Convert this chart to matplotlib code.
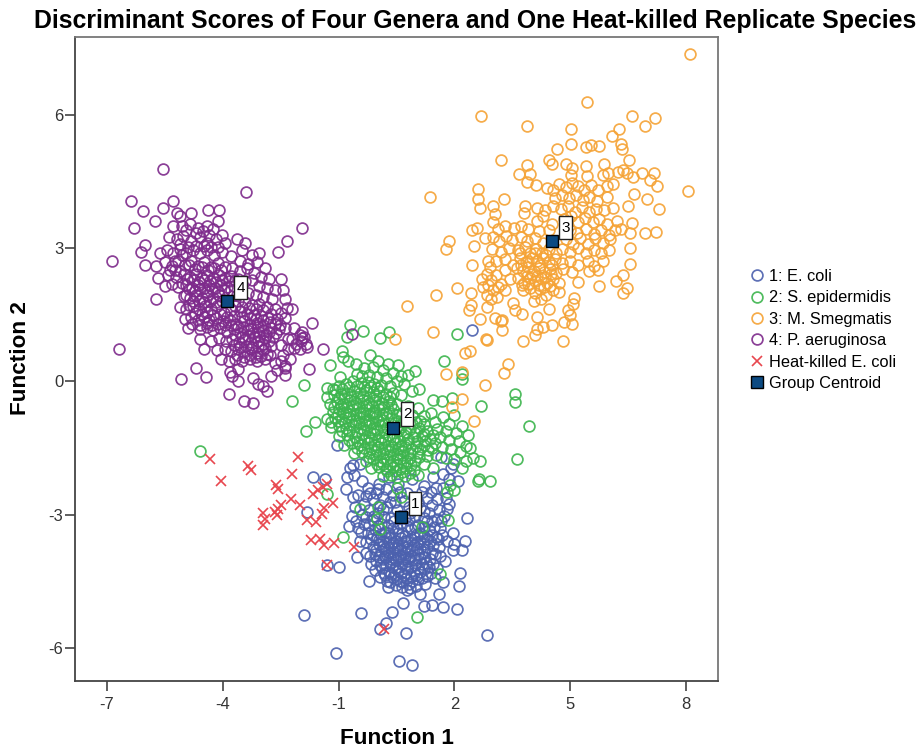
import matplotlib
matplotlib.use("Agg")
import matplotlib.pyplot as plt

plt.rcParams['font.family'] = ['Liberation Sans', 'DejaVu Sans']
plt.rcParams['axes.unicode_minus'] = False

# discriminant scores, (function 1, function 2)
ecoli = [
    (-1.9,-5.25),(-0.42,-5.21),(-1.07,-6.11),(0.56,-6.28),(0.91,-6.37),(2.85,-5.70),(0.74,-5.66),(0.24,-5.43),(0.07,-5.57),
    (0.38,-5.18),(0.66,-4.99),(1.22,-5.06),(1.43,-5.02),(1.71,-5.08),(2.06,-5.13),(2.13,-4.61),(2.14,-4.31),(1.6,-4.78),
    (1.11,-4.78),(0.76,-4.70),(-0.21,-4.48),(-1.0,-4.18),(-1.29,-4.13),(-0.52,-3.94),(-0.19,-3.92),(-0.45,-3.58),(-0.72,-3.26),
    (-1.83,-2.94),(-1.66,-2.15),(-1.35,-2.20),(-0.82,-2.41),(2.32,-3.07),(2.27,-3.59),(2.19,-3.8),(1.97,-3.8),(2.0,-3.65),
    (1.97,-3.41),(1.8,-3.59),(1.76,-4.03),(1.71,-4.52),(2.46,1.16),(-0.6,-2.1),(-0.45,-1.85),(-0.7,-1.95),(1.65,-1.7),(1.9,-1.95),(2.1,-2.25),
    (-0.5,-2.55),(-0.25,-2.4),(0.05,-2.3),(0.3,-2.15),(0.55,-2.3),(0.9,-2.2),(1.2,-2.35),(1.45,-2.15),(1.7,-2.4),(1.55,-2.65),
    (-0.35,-2.75),(-0.1,-2.65),(0.15,-2.6),(0.42,-2.55),(0.7,-2.7),(0.95,-2.6),(1.28,-2.62),(1.6,-2.9),(1.85,-2.75),
    (-0.4,-3.0),(-0.2,-2.9),(0.02,-2.95),(0.25,-2.82),(0.5,-2.9),(0.85,-2.95),(1.1,-2.85),(1.35,-2.95),(1.55,-3.1),(1.72,-3.02),
    (-0.35,-3.2),(-0.12,-3.12),(0.1,-3.2),(0.35,-3.08),(0.6,-3.2),(0.82,-3.12),(1.05,-3.22),(1.3,-3.15),(1.48,-3.28),(1.62,-3.3),
    (-0.25,-3.4),(-0.05,-3.32),(0.2,-3.38),(0.42,-3.3),(0.65,-3.4),(0.88,-3.32),(1.12,-3.4),(1.35,-3.35),(1.52,-3.5),
    (-0.15,-3.55),(0.0,-3.5),(0.15,-3.58),(0.32,-3.5),(0.48,-3.58),(0.62,-3.52),(0.78,-3.6),(0.95,-3.5),(1.1,-3.6),(1.28,-3.55),(1.45,-3.68),
    (-0.1,-3.72),(0.05,-3.65),(0.2,-3.75),(0.35,-3.68),(0.5,-3.75),(0.65,-3.68),(0.8,-3.76),(0.95,-3.68),(1.12,-3.78),(1.3,-3.72),(1.42,-3.85),
    (-0.05,-3.88),(0.1,-3.82),(0.25,-3.9),(0.42,-3.84),(0.58,-3.92),(0.72,-3.85),(0.88,-3.92),(1.05,-3.88),(1.22,-3.95),(1.38,-4.0),
    (-0.02,-4.05),(0.15,-4.0),(0.32,-4.08),(0.48,-4.02),(0.64,-4.1),(0.8,-4.05),(0.98,-4.12),(1.15,-4.1),(1.35,-4.18),(1.55,-4.2),
    (-0.05,-4.25),(0.12,-4.2),(0.3,-4.28),(0.45,-4.2),(0.62,-4.3),(0.78,-4.22),(0.95,-4.3),(1.12,-4.28),(1.3,-4.38),(1.5,-4.42),
    (0.08,-4.4),(0.25,-4.48),(0.42,-4.4),(0.58,-4.5),(0.75,-4.42),(0.9,-4.5),(1.05,-4.45),(1.25,-4.55),
    (0.28,-4.62),(0.48,-4.58),(0.65,-4.62),(0.85,-4.65),(1.0,-4.6),(0.2,-4.35),(0.52,-3.3),(0.3,-3.62),(0.72,-3.95),(0.4,-3.95),
]
ecoli_core = [
    (-1.05,-1.44),(-0.62,-1.89),(-0.79,-2.15),(-0.4,-2.23),(1.97,-1.85),(1.71,-2.08),(-0.62,-2.6),(-0.58,-2.82),(-0.66,-3.02),(-0.55,-3.15),(1.78,-2.62),(1.82,-2.88),
    (-0.18,-2.52),(0.08,-2.77),(0.33,-2.71),(0.58,-2.48),(0.83,-2.83),(1.17,-2.48),(1.43,-2.77),(-0.08,-3.03),(0.17,-3.05),(0.43,-3.13),(0.71,-3.07),(0.98,-3.03),(1.22,-3.07),(1.43,-3.13),
    (-0.22,-3.22),(0.03,-3.26),(0.27,-3.24),(0.53,-3.42),(0.77,-3.25),(0.97,-3.27),(1.2,-3.28),(1.42,-3.45),(-0.12,-3.45),(0.09,-3.44),(0.3,-3.4),(0.73,-3.47),(1.02,-3.44),(1.22,-3.48),
    (0.05,-3.57),(0.24,-3.53),(0.4,-3.64),(0.55,-3.67),(0.71,-3.58),(0.87,-3.55),(1.03,-3.62),(1.2,-3.65),(1.37,-3.58),(-0.02,-3.8),(0.14,-3.7),(0.28,-3.83),(0.44,-3.74),(0.6,-3.8),(0.74,-3.72),(0.9,-3.8),(1.03,-3.74),(1.2,-3.84),
    (0.04,-3.96),(0.2,-3.95),(0.36,-4.0),(0.53,-3.98),(0.67,-4.0),(0.82,-3.98),(0.97,-4.02),(1.12,-3.98),(1.27,-4.08),(0.08,-4.12),(0.24,-4.14),(0.4,-4.13),(0.56,-4.18),(0.72,-4.14),(0.88,-4.18),(1.05,-4.2),(1.22,-4.22),
    (0.18,-4.3),(0.36,-4.33),(0.53,-4.26),(0.7,-4.36),(0.87,-4.38),(1.0,-4.36),(0.33,-4.52),(0.52,-4.44),(0.68,-4.52),(0.82,-4.56),(1.15,-4.42),(1.4,-4.3),(1.45,-4.1),(1.62,-3.92),(1.6,-3.72),(1.68,-3.45),(-0.3,-3.62),(-0.28,-3.85),
    (-0.3,-2.58),(-0.02,-2.5),(0.22,-2.42),(0.46,-2.72),(0.76,-2.52),(1.06,-2.72),(1.4,-2.48),(-0.28,-3.05),(0.14,-2.88),(0.6,-3.03),(1.2,-2.92),(1.65,-3.15),(-0.42,-3.38),(1.58,-3.55),(1.52,-2.4),(1.85,-2.2),(-0.5,-3.3),(-0.15,-4.1),(1.5,-3.88),(0.02,-2.42),
]
sepidermidis = [
    (-0.71,1.28),(-0.36,1.13),(-0.79,1.0),(0.07,0.98),(0.31,1.11),(2.08,1.07),(1.73,0.45),(-2.22,-0.45),(-1.9,-0.09),(-1.85,-1.12),
    (-1.61,-0.92),(3.57,-0.28),(3.57,-0.46),(3.63,-1.74),(3.93,-1.0),(2.7,-0.56),(2.19,0.06),(2.19,0.17),(1.93,-0.37),(2.92,-2.24),
    (2.64,-2.19),(2.66,-1.78),(2.4,-1.49),(1.02,-5.3),(-4.58,-1.57),(0.03,-2.83),(0.0,-3.09),(0.07,-3.31),(-0.45,-2.86),(-0.88,-3.49),
    (-1.31,-2.54),(1.15,-3.28),(1.84,-3.11),(1.88,-2.34),(1.8,-2.49),(2.62,-2.23),(1.63,-4.33),(2.0,-2.45),
    (-0.92,0.68),(-0.88,0.55),(-0.75,0.47),(-0.55,0.4),(-1.22,0.36),(-0.19,0.59),(0.03,0.47),(0.29,0.4),(0.55,0.36),(0.98,0.23),(0.8,0.14),
    (-0.52,0.17),(-0.97,0.1),(-1.29,-0.14),(-1.14,-0.16),(1.08,-0.16),(1.45,-0.41),(1.67,-0.44),
    (-0.35,0.3),(-0.1,0.32),(0.15,0.25),(0.4,0.2),(0.62,0.12),(-0.4,0.12),(-0.2,0.15),(0.0,0.1),(0.22,0.08),(0.5,0.02),(0.7,-0.05),
    (-1.0,-0.1),(-0.82,-0.05),(-0.62,0.0),(-0.42,-0.04),(-0.25,-0.02),(-0.08,-0.06),(0.1,-0.08),(0.32,-0.1),(0.9,-0.22),
    (-1.3,-0.35),(-1.12,-0.3),(-0.95,-0.28),(-0.78,-0.25),(-0.6,-0.22),(-0.45,-0.26),(-0.28,-0.2),(-0.12,-0.24),(0.05,-0.22),(0.22,-0.28),(0.4,-0.25),(0.62,-0.3),
    (-1.22,-0.5),(-1.05,-0.46),(-0.88,-0.5),(-0.7,-0.42),(-0.55,-0.48),(-0.38,-0.42),(-0.2,-0.48),(-0.05,-0.42),(0.12,-0.48),(0.3,-0.44),(0.5,-0.5),(0.8,-0.55),(1.05,-0.6),
    (-1.15,-0.68),(-0.98,-0.62),(-0.8,-0.68),(-0.62,-0.62),(-0.45,-0.68),(-0.28,-0.62),(-0.12,-0.68),(0.05,-0.62),(0.22,-0.7),(0.4,-0.62),(0.65,-0.72),(0.9,-0.75),(1.2,-0.78),(1.4,-0.7),(1.7,-0.8),(2.0,-0.75),
    (-1.3,-0.85),(-1.1,-0.82),(-0.9,-0.85),(-0.72,-0.8),(-0.55,-0.86),(-0.38,-0.8),(-0.2,-0.86),(-0.03,-0.8),(0.15,-0.86),(0.35,-0.82),(0.55,-0.88),(0.78,-0.85),(1.0,-0.92),(1.22,-0.95),(1.5,-0.92),(1.85,-0.95),(2.2,-1.0),
    (-1.2,-1.02),(-1.0,-1.0),(-0.8,-1.05),(-0.62,-0.98),(-0.45,-1.05),(-0.28,-0.98),(-0.1,-1.04),(0.08,-0.98),(0.25,-1.05),(0.62,-1.02),(0.85,-1.08),(1.08,-1.05),(1.3,-1.12),(1.55,-1.08),(1.78,-1.12),(2.05,-1.15),(2.35,-1.2),
    (-1.0,-1.22),(-0.78,-1.2),(-0.58,-1.25),(-0.4,-1.18),(-0.22,-1.24),(-0.05,-1.18),(0.12,-1.25),(0.3,-1.2),(0.5,-1.25),(0.7,-1.2),(0.92,-1.26),(1.15,-1.22),(1.38,-1.3),(1.62,-1.25),(1.85,-1.32),(2.12,-1.35),(2.3,-1.45),
    (-0.85,-1.42),(-0.65,-1.38),(-0.45,-1.44),(-0.25,-1.38),(-0.08,-1.44),(0.1,-1.38),(0.28,-1.45),(0.45,-1.38),(0.62,-1.45),(0.8,-1.38),(1.0,-1.45),(1.2,-1.42),(1.42,-1.5),(1.68,-1.48),(1.92,-1.52),(2.15,-1.58),
    (-0.6,-1.6),(-0.4,-1.58),(-0.2,-1.62),(-0.02,-1.56),(0.15,-1.62),(0.32,-1.56),(0.5,-1.64),(0.68,-1.56),(0.85,-1.62),(1.05,-1.6),(1.3,-1.68),(1.52,-1.65),(1.78,-1.72),(2.0,-1.75),(2.3,-1.78),(2.48,-1.72),
    (-0.3,-1.78),(-0.1,-1.75),(0.08,-1.8),(0.25,-1.74),(0.42,-1.8),(0.6,-1.74),(0.78,-1.8),(0.98,-1.78),(1.2,-1.85),(1.45,-1.95),(2.2,-1.95),
    (-0.15,-1.95),(0.05,-1.92),(0.22,-1.98),(0.4,-1.92),(0.58,-1.98),(0.75,-1.94),(0.95,-2.0),(0.15,-2.12),(0.35,-2.1),(0.52,-2.15),(0.72,-2.12),(0.5,-2.4),(0.62,-2.6),(1.05,-2.1),
]
sepidermidis_core = [
    (-1.1,-0.2),(-0.9,-0.17),(-0.72,-0.12),(-0.52,-0.1),(-0.35,-0.12),(-0.18,-0.12),(0.0,-0.15),(-1.0,-0.37),(-0.85,-0.38),(-0.68,-0.33),(-0.52,-0.37),(-0.36,-0.33),(-0.2,-0.34),(-0.03,-0.33),(0.14,-0.36),(0.32,-0.35),
    (-1.12,-0.58),(-0.95,-0.55),(-0.78,-0.58),(-0.62,-0.52),(-0.46,-0.57),(-0.3,-0.52),(-0.14,-0.56),(0.02,-0.52),(0.18,-0.58),(0.36,-0.53),(-1.02,-0.74),(-0.88,-0.72),(-0.7,-0.74),(-0.54,-0.76),(-0.37,-0.71),(-0.2,-0.75),(-0.05,-0.72),(0.12,-0.76),(0.3,-0.72),(0.5,-0.76),
    (-1.2,-0.92),(-1.02,-0.9),(-0.84,-0.94),(-0.67,-0.89),(-0.48,-0.94),(-0.32,-0.89),(-0.14,-0.94),(0.03,-0.9),(0.2,-0.95),(0.45,-0.94),(0.68,-0.92),(0.9,-0.96),(1.12,-0.9),
    (-0.9,-1.12),(-0.72,-1.12),(-0.53,-1.14),(-0.35,-1.1),(-0.18,-1.13),(0.0,-1.1),(0.18,-1.14),(0.55,-1.12),(0.75,-1.14),(0.98,-1.15),(1.22,-1.18),(1.45,-1.2),
    (-0.72,-1.32),(-0.52,-1.33),(-0.33,-1.3),(-0.15,-1.32),(0.03,-1.3),(0.2,-1.32),(0.4,-1.3),(0.6,-1.33),(0.8,-1.3),(1.02,-1.33),(1.25,-1.33),(1.5,-1.38),
    (-0.52,-1.5),(-0.35,-1.5),(-0.16,-1.52),(0.02,-1.47),(0.2,-1.52),(0.38,-1.47),(0.55,-1.52),(0.72,-1.48),(0.9,-1.52),(1.1,-1.52),(1.32,-1.55),
    (-0.2,-1.7),(-0.02,-1.66),(0.14,-1.72),(0.32,-1.66),(0.5,-1.72),(0.68,-1.66),(0.86,-1.72),(1.08,-1.7),(0.0,-1.85),(0.16,-1.86),(0.33,-1.85),(0.5,-1.87),(0.68,-1.84),(0.88,-1.88),(0.25,-2.02),(0.46,-2.02),(0.65,-2.04),(0.85,-2.05),
]
msmegmatis = [
    (8.10,7.36),(5.43,6.28),(2.68,5.97),(3.88,5.74),(5.02,5.68),(6.59,5.98),(7.19,5.93),(6.95,5.74),(6.26,5.69),(6.09,5.53),(5.02,5.34),(4.67,5.22),
    (5.42,5.28),(5.55,5.32),(5.74,5.30),(6.31,5.34),(6.33,5.24),(3.21,4.98),(6.53,4.98),(4.45,4.98),(4.54,4.90),(4.88,4.89),(5.05,4.81),(5.4,4.84),(5.87,4.90),
    (3.88,4.86),(3.68,4.66),(3.95,4.66),(3.87,4.49),(4.11,4.43),(4.40,4.35),(5.03,4.64),(5.44,4.62),(5.85,4.64),(5.98,4.68),(6.24,4.71),(6.37,4.75),(6.46,4.68),
    (6.85,4.68),(7.17,4.68),(7.06,4.53),(7.25,4.40),(6.63,4.6),(8.05,4.29),(6.66,4.21),(7.0,4.11),(6.5,3.95),(7.3,3.89),(6.59,3.57),(6.56,3.35),(6.93,3.35),(7.23,3.36),
    (6.54,3.0),(6.56,2.65),(6.37,2.39),(6.2,2.27),(6.48,2.11),(6.37,2.0),(5.75,2.15),(5.2,2.24),(1.37,4.14),(2.61,4.32),(2.61,4.10),(2.66,3.90),(3.28,4.11),(2.99,3.95),
    (3.05,3.76),(3.0,3.59),(3.82,3.95),(3.81,3.8),(1.86,3.16),(1.77,2.97),(2.5,3.05),(2.46,3.4),(2.59,3.46),(2.79,3.23),(2.46,2.63),(2.87,2.72),(2.07,2.11),(1.53,1.94),
    (0.76,1.69),(1.45,1.11),(2.44,1.99),(2.44,1.71),(2.38,1.6),(2.66,1.41),(2.85,1.67),(3.05,1.43),(3.24,1.39),(3.24,1.16),(2.83,0.96),(3.52,1.76),(3.56,1.6),(3.75,1.51),
    (4.14,1.46),(4.45,1.64),(4.54,1.26),(4.83,1.34),(4.99,1.49),(5.08,1.75),(5.09,1.88),(4.13,1.19),(4.3,1.22),(4.08,1.04),(4.82,0.92),(3.78,0.92),(0.46,0.96),(2.27,0.64),
    (2.4,0.68),(3.38,0.4),(3.28,0.19),(1.77,0.17),(2.19,0.21),(2.79,-0.09),(2.19,-0.39),(1.93,-0.58),(2.51,-0.89),(3.22,1.37),(2.85,0.94),(4.95,1.6),(5.05,1.3),
    (4.55,4.3),(4.72,4.45),(4.88,4.38),(5.05,4.46),(5.2,4.4),(5.35,4.3),(5.55,4.42),(5.72,4.3),(5.95,4.4),(6.12,4.45),(4.6,4.12),(4.8,4.2),(4.98,4.12),(5.15,4.2),(5.32,4.08),(5.5,4.15),(5.7,4.05),(5.95,4.15),
    (4.15,3.9),(4.35,3.85),(4.55,3.95),(4.75,3.88),(4.95,3.95),(5.12,3.82),(5.3,3.92),(5.48,3.82),(5.68,3.88),(5.88,3.85),(6.1,3.9),
    (4.15,3.62),(4.3,3.72),(4.52,3.55),(4.85,3.65),(5.02,3.72),(5.2,3.58),(5.38,3.68),(5.58,3.58),(5.75,3.66),(5.95,3.55),(6.22,3.62),(6.32,3.42),
    (3.12,3.42),(3.32,3.5),(3.55,3.45),(3.72,3.5),(3.9,3.42),(4.2,3.38),(4.45,3.4),(5.0,3.4),(5.18,3.35),(5.4,3.42),(5.62,3.32),(5.8,3.4),(6.0,3.3),(6.15,3.4),
    (3.0,3.25),(3.15,3.15),(3.35,3.28),(3.5,3.18),(3.72,3.25),(3.88,3.15),(4.1,3.22),(4.3,3.12),(4.9,3.2),(5.08,3.1),(5.25,3.22),(5.45,3.1),(5.65,3.22),(5.85,3.12),(6.02,3.2),
    (2.98,2.98),(3.2,2.92),(3.42,3.0),(3.65,2.95),(3.82,3.02),(3.95,2.88),(4.12,2.98),(4.28,2.9),(4.45,2.98),(4.62,2.9),(4.8,2.98),(5.0,2.92),(5.2,3.0),(5.4,2.88),(5.62,2.96),(5.8,2.88),(6.0,2.95),
    (2.92,2.58),(3.08,2.72),(3.3,2.75),(3.52,2.62),(3.7,2.78),(3.85,2.68),(4.0,2.78),(4.15,2.7),(4.3,2.78),(4.45,2.68),(4.6,2.76),(4.8,2.66),(5.0,2.72),(5.2,2.62),(5.45,2.72),(5.62,2.6),(5.85,2.7),(3.3,2.5),
    (3.62,2.55),(3.78,2.48),(3.92,2.58),(4.05,2.48),(4.18,2.55),(4.32,2.46),(4.48,2.52),(4.62,2.44),(4.82,2.52),(5.05,2.46),(5.5,2.48),(5.72,2.5),
    (2.72,2.3),(2.85,2.42),(2.95,2.28),(3.08,2.4),(3.22,2.2),(3.45,2.3),(3.65,2.32),(3.8,2.22),(3.95,2.32),(4.1,2.25),(4.25,2.33),(4.4,2.22),(4.55,2.3),(4.7,2.22),
    (2.75,2.12),(2.88,2.18),(3.0,2.05),(3.12,2.12),(3.3,2.05),(3.78,2.05),(3.95,2.1),(4.08,2.0),(4.22,2.08),(4.38,1.95),(4.55,2.05),(4.72,2.02),(2.85,1.95),(2.95,1.85),(3.1,1.9),(4.05,1.82),(4.25,1.85),
    (3.7,2.9),(3.9,2.72),(4.08,2.88),(4.22,2.62),(4.38,2.85),(4.52,2.62),(3.72,2.62),(3.88,2.38),(4.02,2.42),(4.15,2.38),(4.35,2.35),(4.5,2.42),(3.75,2.18),(3.92,2.2),(4.18,2.18),(4.32,2.12),(4.48,2.15),
]
paeruginosa = [
    (-5.54,4.79),(-3.40,4.26),(-6.38,4.06),(-6.08,3.83),(-5.28,4.07),(-5.54,3.90),(-5.76,3.60),(-6.30,3.45),(-1.94,3.46),(-2.35,3.17),(-2.56,2.92),(-6.87,2.72),
    (-6.02,3.06),(-6.12,2.91),(-6.02,2.61),(-5.72,1.86),(-6.68,0.73),(-1.68,1.32),(-1.41,0.73),(-1.76,0.29),(-5.08,0.05),(-4.70,0.30),(-4.44,0.11),(-3.84,-0.28),
    (-3.44,-0.45),(-3.21,-0.49),(-0.66,1.06),(-5.2,3.78),(-5.1,3.72),(-4.82,3.8),(-4.38,3.85),(-4.1,3.85),(-4.12,3.6),
    (-5.28,3.5),(-5.05,3.5),(-4.85,3.55),(-4.65,3.45),(-4.42,3.5),(-4.25,3.42),(-4.02,3.3),(-3.62,3.2),(-3.42,3.12),
    (-5.4,3.25),(-5.2,3.2),(-5.02,3.28),(-4.82,3.15),(-4.6,3.25),(-4.4,3.12),(-4.18,3.2),(-3.95,3.12),(-3.5,2.95),(-3.25,2.85),(-3.05,2.9),(-2.9,2.55),
    (-5.62,2.9),(-5.45,2.95),(-5.28,2.9),(-5.12,2.98),(-4.95,2.88),(-4.78,2.96),(-4.6,2.88),(-4.42,2.95),(-4.22,2.85),(-4.02,2.92),(-3.8,2.82),(-3.55,2.72),(-3.35,2.65),(-3.12,2.68),
    (-5.72,2.6),(-5.5,2.68),(-5.32,2.6),(-5.15,2.7),(-4.98,2.62),(-4.82,2.7),(-4.65,2.6),(-4.48,2.68),(-4.3,2.58),(-4.12,2.66),(-3.95,2.58),(-3.75,2.55),(-3.55,2.48),(-3.38,2.55),(-3.2,2.45),(-3.0,2.35),(-2.8,2.3),(-2.5,2.3),(-2.45,2.05),
    (-5.68,2.32),(-5.42,2.4),(-5.22,2.35),(-5.0,2.42),(-4.85,2.35),(-4.7,2.42),(-4.55,2.32),(-4.4,2.4),(-4.25,2.32),(-4.1,2.4),(-3.95,2.32),(-3.78,2.38),(-3.6,2.3),(-3.42,2.25),(-3.25,2.28),(-3.05,2.15),(-2.85,2.1),(-2.65,2.05),
    (-5.5,2.15),(-5.15,2.12),(-4.95,2.18),(-4.8,2.1),(-4.65,2.18),(-4.5,2.1),(-4.35,2.18),(-4.2,2.1),(-4.05,2.18),(-3.88,2.12),(-3.7,2.15),(-3.55,2.05),(-3.35,2.0),(-3.15,1.95),(-2.95,1.9),(-2.72,1.85),(-2.4,1.85),
    (-5.0,1.92),(-4.85,1.88),(-4.7,1.95),(-4.55,1.88),(-4.4,1.95),(-4.25,1.88),(-4.1,1.95),(-3.6,1.8),(-3.42,1.78),(-3.25,1.72),(-3.05,1.75),(-2.85,1.68),(-2.65,1.62),(-2.35,1.65),(-2.2,1.62),
    (-5.1,1.68),(-4.95,1.62),(-4.78,1.7),(-4.62,1.62),(-4.45,1.7),(-4.3,1.62),(-4.15,1.7),(-3.98,1.55),(-3.78,1.6),(-3.55,1.58),(-3.38,1.52),(-3.2,1.5),(-3.02,1.48),(-2.82,1.42),(-2.6,1.4),(-2.38,1.42),
    (-4.98,1.4),(-4.82,1.45),(-4.65,1.38),(-4.5,1.45),(-4.35,1.38),(-4.18,1.42),(-4.0,1.35),(-3.82,1.38),(-3.65,1.3),(-3.45,1.35),(-3.3,1.28),(-3.12,1.32),(-2.95,1.28),(-2.75,1.2),(-2.55,1.18),(-2.4,1.2),(-2.15,1.2),(-1.95,1.12),
    (-4.9,1.2),(-4.6,1.18),(-4.42,1.22),(-4.25,1.15),(-4.08,1.2),(-3.9,1.12),(-3.72,1.18),(-3.55,1.1),(-3.38,1.15),(-3.22,1.08),(-3.05,1.12),(-2.88,1.05),(-2.7,1.0),(-2.32,0.95),(-2.1,0.85),(-1.95,0.98),(-1.85,0.85),
    (-4.6,0.95),(-4.3,0.92),(-4.1,0.98),(-3.92,0.9),(-3.75,0.95),(-3.58,0.88),(-3.42,0.95),(-3.28,0.88),(-3.1,0.92),(-2.95,0.85),(-2.75,0.8),(-2.5,0.82),(-2.3,0.72),(-2.15,0.75),(-2.0,0.72),
    (-4.5,0.72),(-4.15,0.7),(-3.95,0.74),(-3.78,0.68),(-3.6,0.72),(-3.45,0.66),(-3.28,0.72),(-3.12,0.65),(-2.95,0.7),(-2.78,0.6),(-2.45,0.6),(-2.25,0.5),
    (-4.05,0.5),(-3.85,0.45),(-3.68,0.5),(-3.5,0.45),(-3.3,0.5),(-3.12,0.45),(-2.9,0.5),(-2.65,0.42),(-2.4,0.3),(-2.4,0.15),(-3.82,0.22),(-3.75,0.12),(-3.6,0.02),(-3.22,0.08),(-3.1,-0.05),(-2.95,-0.1),(-2.85,-0.22),(-2.75,0.12),(-3.6,0.28),
]
paeruginosa_core = [
    (-4.88,2.62),(-4.72,2.52),(-4.55,2.58),(-4.38,2.5),(-4.22,2.55),(-4.05,2.5),(-5.1,2.48),(-4.92,2.3),(-4.75,2.28),(-4.62,2.24),(-4.48,2.28),(-4.32,2.26),(-4.18,2.24),(-4.02,2.28),(-3.85,2.25),(-3.68,2.28),
    (-5.05,2.22),(-4.88,2.08),(-4.72,2.04),(-4.58,2.08),(-4.42,2.02),(-4.28,2.08),(-4.12,2.03),(-3.96,2.06),(-3.78,2.05),(-3.62,1.95),(-4.95,1.95),(-4.78,1.82),(-4.62,1.8),(-4.48,1.78),(-4.34,1.82),(-4.18,1.78),(-4.02,1.82),
    (-4.88,1.72),(-4.72,1.55),(-4.55,1.52),(-4.4,1.56),(-4.25,1.5),(-4.08,1.52),(-3.9,1.44),(-3.72,1.48),(-4.8,1.3),(-4.58,1.28),(-4.42,1.32),(-4.28,1.28),(-4.12,1.3),(-3.95,1.26),(-3.78,1.28),(-3.6,1.22),(-3.48,1.22),
    (-3.68,1.05),(-3.5,1.0),(-3.36,1.02),(-3.2,1.0),(-3.05,1.02),(-2.92,0.98),(-2.8,0.92),(-3.72,0.82),(-3.55,0.78),(-3.4,0.8),(-3.24,0.78),(-3.08,0.8),(-2.9,0.75),(-3.62,0.6),(-3.45,0.55),(-3.3,0.6),(-3.15,0.55),(-3.0,0.58),(-2.85,0.62),
    (-3.28,1.18),(-3.1,1.22),(-2.95,1.16),(-2.8,1.12),(-2.62,1.08),(-2.52,1.28),(-2.65,1.3),(-2.78,1.34),(-2.95,1.38),(-3.15,1.4),(-3.3,1.42),(-3.5,1.45),(-2.95,1.6),(-3.15,1.62),(-3.32,1.65),(-3.5,1.68),(-3.68,1.7),(-2.75,1.52),(-2.5,1.55),
    (-5.25,2.72),(-5.38,2.5),(-5.25,2.5),(-5.32,2.2),(-5.05,2.85),(-4.9,3.02),(-4.7,3.05),(-4.5,3.05),(-4.3,3.02),(-4.12,3.02),(-5.12,3.1),(-4.7,3.35),(-4.52,3.38),(-4.35,3.3),(-4.95,3.4),
    (-1.98,0.92),(-1.9,1.0),(-1.82,0.78),(-2.0,1.05),(-2.2,0.95),(-2.5,0.45),(-2.6,0.25),(-2.4,0.35),
]
heat_killed = [
    (-4.33,-1.74),(-4.05,-2.23),(-3.34,-1.91),(-3.27,-1.99),(-2.06,-1.70),(-2.2,-2.08),(-2.61,-2.34),(-2.58,-2.41),(-1.66,-2.53),(-1.53,-2.45),(-1.4,-2.38),(-1.31,-2.3),
    (-2.23,-2.65),(-2.0,-2.79),(-2.48,-2.77),(-2.56,-2.86),(-2.65,-2.94),(-2.95,-2.96),(-2.91,-3.09),(-2.6,-3.01),(-2.95,-3.22),(-1.15,-2.74),(-1.38,-2.84),(-1.44,-2.98),
    (-1.83,-3.11),(-1.59,-3.16),(-1.72,-3.56),(-1.48,-3.54),(-1.38,-3.67),(-1.11,-3.63),(-0.6,-3.73),(-1.29,-4.14),(0.17,-5.57),
]
centroids_x = [0.61, 0.42, 4.52, -3.90]
centroids_y = [-3.06, -1.04, 3.15, 1.80]
centroid_labels = ['1', '2', '3', '4']

fig = plt.figure(figsize=(9.22, 7.49), dpi=100)
ax = fig.add_axes([75 / 922, 1 - 681 / 749, 643 / 922, 644 / 749])

groups = [
    (ecoli + ecoli_core, '#4c61ae', '1: E. coli'),
    (sepidermidis + sepidermidis_core, '#3db54e', '2: S. epidermidis'),
    (msmegmatis, '#f5a336', '3: M. Smegmatis'),
    (paeruginosa + paeruginosa_core, '#7e2b8c', '4: P. aeruginosa'),
]
for points, colour, name in groups:
    xs, ys = zip(*points)
    ax.plot(xs, ys, 'o', ms=7.8, mfc='none', mec=colour, mew=1.25, alpha=0.9, label=name)

xs, ys = zip(*heat_killed)
ax.plot(xs, ys, 'x', ms=7, mec='#e8474f', mew=1.2, label='Heat-killed E. coli')

ax.plot(centroids_x, centroids_y, 's', ms=9, mfc='#0c4a82', mec='black', mew=1, label='Group Centroid', zorder=5)
for cx, cy, lab in zip(centroids_x, centroids_y, centroid_labels):
    ax.annotate(lab, (cx, cy), xytext=(10, 10), textcoords='offset points', ha='center', va='center',
                fontsize=11, zorder=6,
                bbox=dict(boxstyle='square,pad=0.12', mutation_aspect=2.6, fc='white', ec='#222222', lw=1))

ax.set_xlim(-7.83, 8.83)
ax.set_ylim(-6.74, 7.75)
ax.set_xticks([-7, -4, -1, 2, 5, 8])
ax.set_yticks([-6, -3, 0, 3, 6])
ax.tick_params(axis='x', labelsize=12, length=7.5, width=1.1, color='#333333', labelcolor='#333333', pad=4)
ax.tick_params(axis='y', labelsize=12, length=7.5, width=1.1, color='#333333', labelcolor='#333333', pad=1)
for side in ax.spines:
    ax.spines[side].set_color('#777777')
    ax.spines[side].set_linewidth(1.3)
ax.spines['left'].set_color('#444444')
ax.spines['bottom'].set_color('#444444')

fig.text(397 / 922, 1 - 739 / 749, 'Function 1', ha='center', va='center', fontsize=16.2, fontweight='bold')
fig.text(21 / 922, 1 - 358 / 749, 'Function 2', ha='center', va='center', rotation=90, fontsize=16.2, fontweight='bold')
fig.text(475.5 / 922, 1 - 21 / 749, 'Discriminant Scores of Four Genera and One Heat-killed Replicate Species',
         ha='center', va='center', fontsize=17.9, fontweight='bold')

ax.legend(loc='upper left', bbox_to_anchor=(746 / 922, 1 - 269 / 749), bbox_transform=fig.transFigure,
          frameon=False, fontsize=11.8, labelspacing=0.39, handletextpad=0.1, handlelength=1.3, borderpad=0, borderaxespad=0)

fig.savefig('out.png', dpi=100)
